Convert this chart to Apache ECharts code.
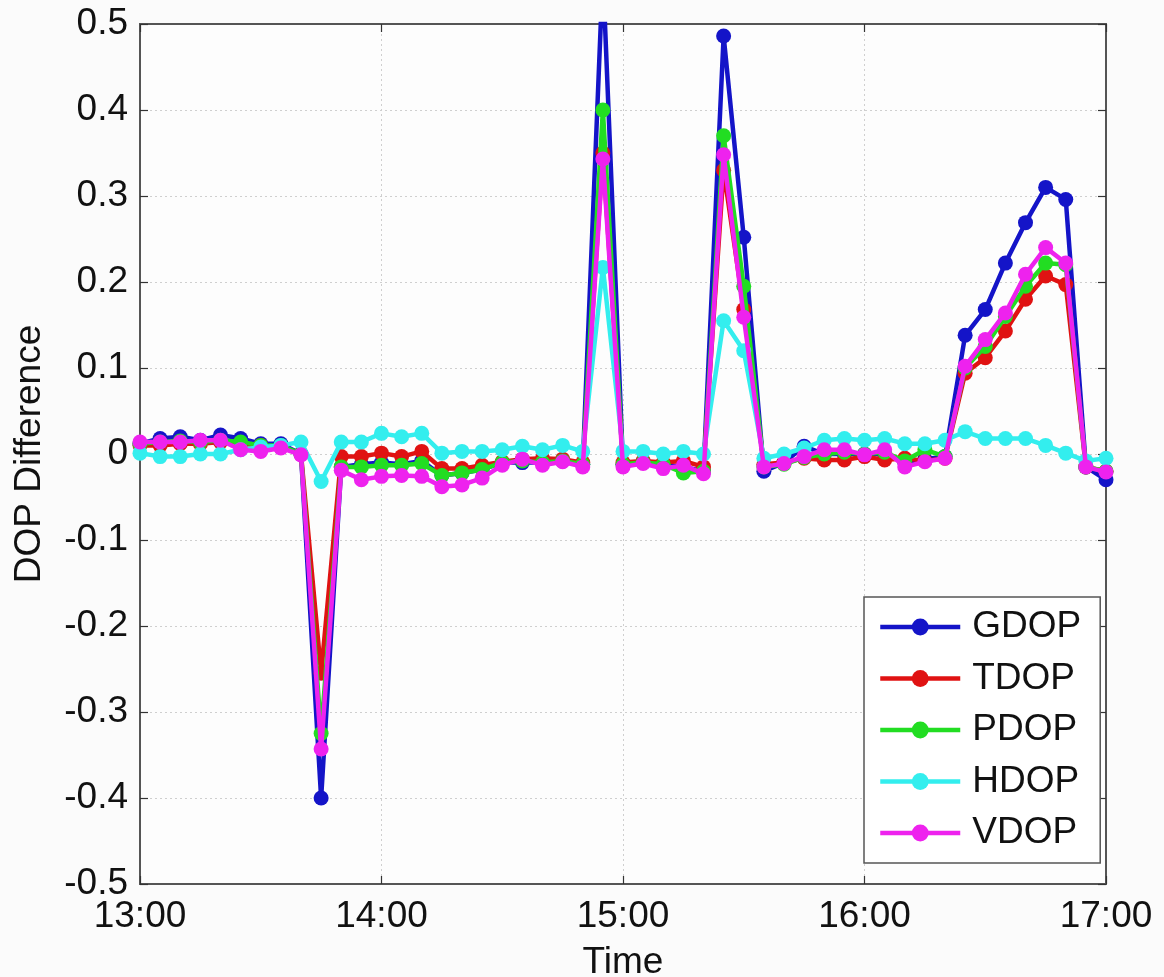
<!DOCTYPE html>
<html>
<head>
<meta charset="utf-8">
<script src="https://cdn.jsdelivr.net/npm/echarts@6/dist/echarts.min.js"></script>
<style>
html,body{margin:0;padding:0;background:#fbfbfb;}
#chart{width:1164px;height:977px;}
</style>
</head>
<body>
<div id="chart"></div>
<script>
// Time stamps every 5 minutes from 13:00 to 17:00
const times = [
 "13:00","13:05","13:10","13:15","13:20","13:25","13:30","13:35","13:40","13:45","13:50","13:55",
 "14:00","14:05","14:10","14:15","14:20","14:25","14:30","14:35","14:40","14:45","14:50","14:55",
 "15:00","15:05","15:10","15:15","15:20","15:25","15:30","15:35","15:40","15:45","15:50","15:55",
 "16:00","16:05","16:10","16:15","16:20","16:25","16:30","16:35","16:40","16:45","16:50","16:55",
 "17:00"
];
const seriesNames = ["GDOP","TDOP","PDOP","HDOP","VDOP"];
const yTicks = [-0.5,-0.4,-0.3,-0.2,-0.1,0,0.1,0.2,0.3,0.4,0.5];

const GDOP = [0.012,0.018,0.020,0.016,0.022,0.018,0.012,0.012,0.000,-0.400,-0.015,-0.012,
 -0.010,-0.012,-0.008,-0.025,-0.022,-0.018,-0.010,-0.010,-0.010,-0.008,-0.012,0.560,
 -0.012,-0.010,-0.012,-0.015,-0.020,0.486,0.252,-0.020,-0.010,0.009,0.000,0.000,
 0.000,0.000,-0.010,-0.006,-0.003,0.138,0.168,0.222,0.269,0.310,0.296,-0.015,
 -0.030];
const TDOP = [0.010,0.010,0.012,0.012,0.014,0.012,0.010,0.008,0.000,-0.255,-0.003,-0.003,
 0.001,-0.003,0.003,-0.017,-0.017,-0.013,-0.009,-0.006,-0.005,-0.006,-0.010,0.350,
 -0.010,-0.008,-0.010,-0.008,-0.015,0.330,0.168,-0.012,-0.010,-0.005,-0.007,-0.007,
 -0.003,-0.007,-0.005,-0.008,-0.005,0.094,0.112,0.143,0.180,0.207,0.197,-0.015,
 -0.020];
const PDOP = [0.012,0.014,0.015,0.014,0.016,0.014,0.010,0.010,0.000,-0.325,-0.015,-0.015,
 -0.013,-0.013,-0.011,-0.025,-0.022,-0.018,-0.010,-0.008,-0.010,-0.008,-0.012,0.400,
 -0.012,-0.010,-0.012,-0.022,-0.020,0.370,0.195,-0.015,-0.012,-0.004,0.000,0.002,
 0.000,0.002,-0.008,0.005,-0.003,0.100,0.125,0.160,0.195,0.222,0.220,-0.015,
 -0.020];
const HDOP = [0.001,-0.003,-0.003,0.000,0.000,0.005,0.008,0.010,0.014,-0.032,0.014,0.014,
 0.024,0.020,0.024,0.001,0.003,0.003,0.005,0.009,0.005,0.010,0.003,0.217,
 0.003,0.003,0.000,0.003,0.000,0.155,0.120,-0.005,0.000,0.007,0.016,0.018,
 0.016,0.018,0.012,0.012,0.016,0.026,0.018,0.018,0.018,0.010,0.001,-0.008,
 -0.005];
const VDOP = [0.014,0.014,0.014,0.016,0.016,0.005,0.003,0.007,-0.001,-0.343,-0.019,-0.030,
 -0.026,-0.025,-0.026,-0.038,-0.036,-0.028,-0.013,-0.006,-0.013,-0.009,-0.015,0.343,
 -0.015,-0.011,-0.017,-0.013,-0.023,0.348,0.159,-0.015,-0.011,-0.003,0.005,0.005,
 -0.001,0.005,-0.015,-0.009,-0.005,0.102,0.133,0.164,0.209,0.240,0.222,-0.015,
 -0.021];

const values = [GDOP, TDOP, PDOP, HDOP, VDOP];
const colors = ["#1414c8","#e01212","#22dd22","#33eeee","#ee22ee"];

const FONT = "Liberation Sans";
const axisLineStyle = {color:"#555", width:2};
const tickStyle = {show:true, inside:true, length:8, lineStyle:{color:"#333", width:1.2}};
const gridStyle = {show:true, lineStyle:{color:"#cfcfcf", width:1, type:[2,3]}};

const chart = echarts.init(document.getElementById('chart'));
const option = {
  backgroundColor: "#fbfbfb",
  animation: false,
  textStyle: {fontFamily: FONT},
  grid: {left:140, top:24, width:966, height:860, containLabel:false, outerBoundsMode:'none',
         show:true, backgroundColor:"#fdfdfd", borderColor:"#555", borderWidth:2},
  legend: {
    orient: 'vertical', left: 864, top: 597,
    data: seriesNames,
    itemWidth: 80, itemHeight: 21, itemGap: 11.5,
    padding: [10, 19, 10, 14],
    backgroundColor: "#ffffff", borderColor: "#555", borderWidth: 1.5,
    lineStyle: {width: 4.5},
    textStyle: {fontFamily: FONT, fontSize: 37, color: "#111", lineHeight: 40, padding:[0,0,0,7]}
  },
  xAxis: [{
    type: 'category', data: times, boundaryGap: false,
    name: 'Time', nameLocation: 'middle', nameGap: 60,
    nameTextStyle: {fontFamily: FONT, fontSize: 37, color: "#111"},
    axisLine: {show:true, onZero:false, lineStyle: axisLineStyle},
    axisTick: Object.assign({interval: 11, alignWithLabel:true}, tickStyle),
    axisLabel: {interval: 11, fontFamily: FONT, fontSize: 37, color: "#111", margin: 14, lineHeight: 37},
    splitLine: Object.assign({interval: 11}, gridStyle)
  },{
    type: 'category', data: times, boundaryGap: false, position: 'top',
    axisLine: {show:true, onZero:false, lineStyle: axisLineStyle},
    axisTick: Object.assign({interval: 11}, tickStyle),
    axisLabel: {show:false}, splitLine: {show:false}
  }],
  yAxis: [{
    type: 'value', min: yTicks[0], max: yTicks[yTicks.length-1], interval: 0.1,
    name: 'DOP Difference', nameLocation: 'middle', nameGap: 92,
    nameTextStyle: {fontFamily: FONT, fontSize: 37, color: "#111"},
    axisLine: {show:true, onZero:false, lineStyle: axisLineStyle},
    axisTick: tickStyle,
    axisLabel: {fontFamily: FONT, fontSize: 37, color: "#111", margin: 12,
      formatter: v => { const r = Math.round(v*10)/10; return r === 0 ? '0' : String(r); }},
    splitLine: gridStyle
  },{
    type: 'value', min: yTicks[0], max: yTicks[yTicks.length-1], interval: 0.1, position: 'right',
    axisLine: {show:true, onZero:false, lineStyle: axisLineStyle},
    axisTick: tickStyle, axisLabel: {show:false}, splitLine: {show:false}
  }],
  series: seriesNames.map((n, i) => ({
    name: n, type: 'line', data: values[i], xAxisIndex: 0, yAxisIndex: 0,
    clip: true,
    symbol: 'circle', symbolSize: 15, showSymbol: true, showAllSymbol: true,
    lineStyle: {color: colors[i], width: 4.5},
    itemStyle: {color: colors[i]},
    emphasis: {disabled: true},
    z: 2 + i
  }))
};
chart.setOption(option);
</script>
</body>
</html>
